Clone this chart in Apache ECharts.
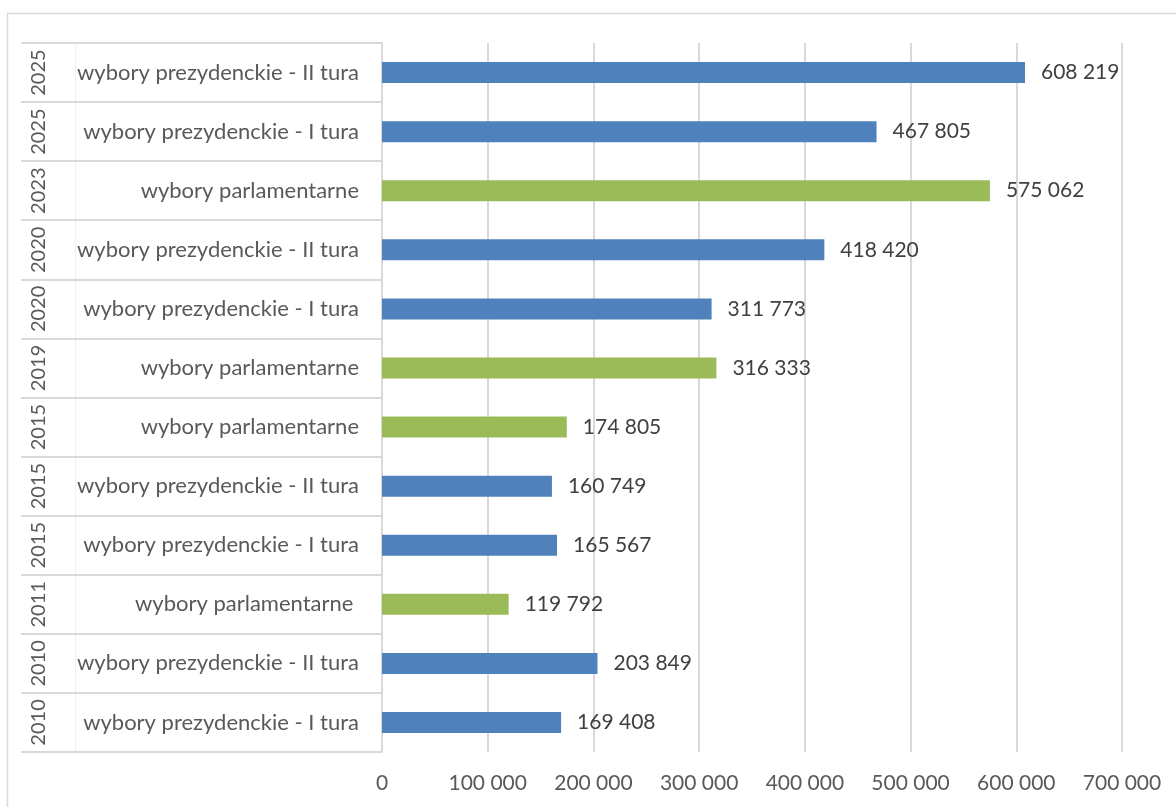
<!DOCTYPE html>
<html>
<head>
<meta charset="utf-8">
<script src="https://cdn.jsdelivr.net/npm/echarts@6/dist/echarts.min.js"></script>
<style>
html,body{margin:0;padding:0;background:#fff;}
#chart{width:1176px;height:807px;}
</style>
</head>
<body>
<div id="chart"></div>
<script>
// Categories listed bottom to top
const years = ['2010','2010','2011','2015','2015','2015','2019','2020','2020','2023','2025','2025'];
const names = [
  'wybory prezydenckie - I tura',
  'wybory prezydenckie - II tura',
  'wybory parlamentarne ',
  'wybory prezydenckie - I tura',
  'wybory prezydenckie - II tura',
  'wybory parlamentarne',
  'wybory parlamentarne',
  'wybory prezydenckie - I tura',
  'wybory prezydenckie - II tura',
  'wybory parlamentarne',
  'wybory prezydenckie - I tura',
  'wybory prezydenckie - II tura'
];
const kinds = ['pres','pres','parl','pres','pres','parl','parl','pres','pres','parl','pres','pres'];
const values = [169408, 203849, 119792, 165567, 160749, 174805, 316333, 311773, 418420, 575062, 467805, 608219];
const xTicks = { min: 0, max: 700000, step: 100000 };

const kindColor = { pres: '#4F81BD', parl: '#9BBB59' };
const fmt = v => String(v).replace(/\B(?=(\d{3})+(?!\d))/g, ' ');
const FONT = 'Lato';

const chart = echarts.init(document.getElementById('chart'));
chart.setOption({
  backgroundColor: '#fff',
  animation: false,
  graphic: [{
    type: 'rect', z: -10,
    shape: { x: 7.5, y: 13.5, width: 1200, height: 850 },
    style: { fill: 'none', stroke: '#d9d9d9', lineWidth: 1.5 }
  }],
  grid: { left: 382, right: 54, top: 43, bottom: 55 },
  xAxis: {
    type: 'value', min: xTicks.min, max: xTicks.max, interval: xTicks.step,
    axisLine: { show: false }, axisTick: { show: false },
    splitLine: { lineStyle: { color: '#d9d9d9', width: 2 } },
    axisLabel: { formatter: fmt, color: '#595959', fontFamily: FONT, fontSize: 21, margin: 21 }
  },
  yAxis: [{
    type: 'category', data: names, position: 'left',
    axisLine: { lineStyle: { color: '#d9d9d9', width: 2 } },
    axisTick: { show: true, length: 361, interval: 0, lineStyle: { color: '#d9d9d9', width: 2 } },
    axisLabel: { color: '#595959', fontFamily: FONT, fontSize: 22, margin: 23, interval: 0 }
  }, {
    type: 'category', data: years, position: 'left', offset: 307,
    axisLine: { lineStyle: { color: '#f0f0f0', width: 1 } },
    axisTick: { show: false },
    axisLabel: { color: '#595959', fontFamily: FONT, fontSize: 20, rotate: 90, margin: 26, interval: 0 }
  }],
  series: [{
    type: 'bar', yAxisIndex: 0, barWidth: 21,
    data: values.map((v, i) => ({ value: v, itemStyle: { color: kindColor[kinds[i]] } })),
    label: {
      show: true, position: 'right', distance: 16,
      formatter: p => fmt(p.value),
      color: '#404040', fontFamily: FONT, fontSize: 21
    }
  }]
});
</script>
</body>
</html>
